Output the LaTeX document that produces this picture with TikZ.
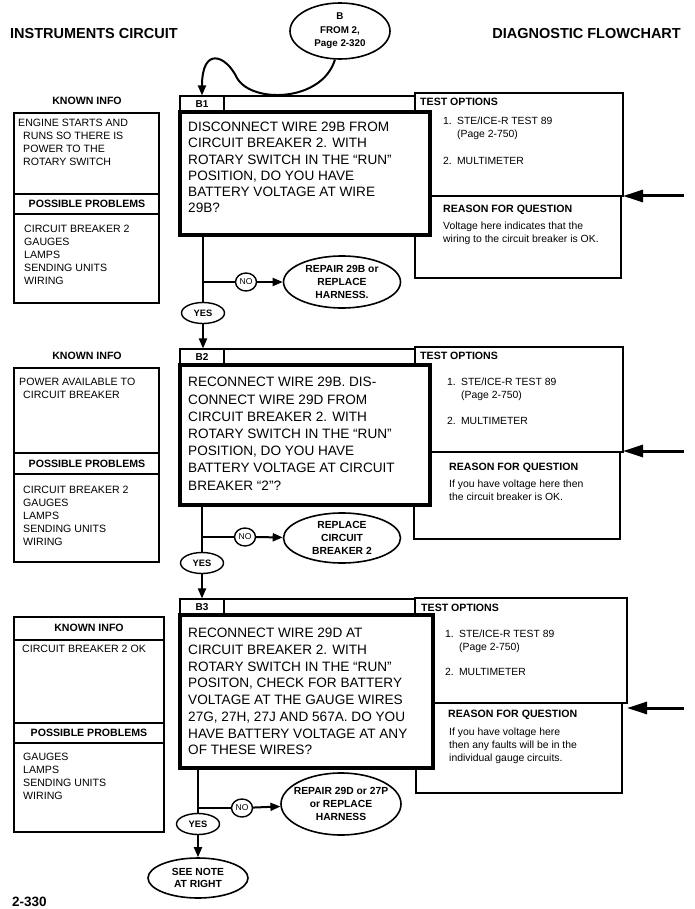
\documentclass[tikz,border=0pt]{standalone}
\usepackage{fontspec}
\setmainfont{Liberation Sans}
\usetikzlibrary{arrows.meta,shapes.geometric}
\tikzset{
  boxline/.style={line width=1.1pt},
  qline/.style={line width=4.5pt},
  conn/.style={line width=2pt},
  arr/.style={-{Triangle[length=10pt,width=8pt]}},
  bigarr/.style={line width=3pt,-{Triangle[length=20pt,width=12pt]}},
  hdr/.style={font=\bfseries\fontsize{10.6}{12}\selectfont,inner sep=0pt},
  ktext/.style={font=\fontsize{10.6}{12.8}\selectfont,align=left,anchor=north west,inner sep=0pt},
  ttext/.style={font=\fontsize{10.4}{13.5}\selectfont,anchor=base west,inner sep=0pt},
  rtext/.style={font=\fontsize{10.4}{13.7}\selectfont,align=left,anchor=north west,inner sep=0pt},
  qtext/.style={align=left,anchor=north west,inner sep=0pt},
  oval/.style={ellipse,draw,line width=1.6pt,inner sep=0pt,align=center,font=\bfseries\fontsize{10.3}{12.8}\selectfont},
  smalloval/.style={ellipse,draw,line width=1.4pt,inner sep=0pt,font=\fontsize{8.5}{10}\selectfont},
  yesoval/.style={ellipse,draw,line width=1.4pt,inner sep=0pt,font=\bfseries\fontsize{9.3}{10}\selectfont},
  tabcell/.style={draw,line width=1.1pt,minimum width=44pt,minimum height=16pt,inner sep=0pt,font=\bfseries\fontsize{10}{11}\selectfont},
}
\begin{document}
\begin{tikzpicture}[x=1pt,y=-1pt]
\useasboundingbox (0,0) rectangle (694,909);
\fill[white] (0,0) rectangle (694,909);

% header
\node[font=\bfseries\fontsize{14.5}{16}\selectfont,anchor=base west,inner sep=0pt] (title) at (10,38.2) {INSTRUMENTS CIRCUIT};
\node[font=\bfseries\fontsize{14.5}{16}\selectfont,anchor=base east,inner sep=0pt] (title2) at (681,38.2) {DIAGNOSTIC FLOWCHART};
\node[oval,minimum width=100,minimum height=56,font=\bfseries\fontsize{9.8}{13.5}\selectfont] (bn) at (340,31) {B\\FROM 2,\\Page 2-320};

% ================= ROW 1 =================
\draw[boxline] (14,113) rectangle (159,303);
\draw[boxline] (14,194) -- (159,194) (14,214) -- (159,214);
\node[hdr,anchor=base] (ki1) at (87,104.8) {KNOWN INFO};
\node[hdr,anchor=base] (pp1) at (87,207.8) {POSSIBLE PROBLEMS};
\node[ktext] (kt1) at (18,119.2) {ENGINE STARTS AND\\\hspace*{5pt}RUNS SO THERE IS\\\hspace*{5pt}POWER TO THE\\\hspace*{5pt}ROTARY SWITCH};
\node[ktext] (pl1) at (24,225.2) {CIRCUIT BREAKER 2\\GAUGES\\LAMPS\\SENDING UNITS\\WIRING};

\draw[boxline] (415,93) rectangle (623,196);
\draw[boxline] (415,196) rectangle (621,278);
\node[hdr,anchor=base west] (to1) at (420,105.8) {TEST OPTIONS};
\node[ttext] (o11) at (443,124.7) {1.\enspace STE/ICE-R TEST 89};
\node[ttext] (o12) at (457,137.7) {(Page 2-750)};
\node[ttext] (o13) at (443,164.7) {2.\enspace MULTIMETER};
\node[hdr,anchor=base west] (rq1) at (443,212.3) {REASON FOR QUESTION};
\node[rtext] (rt1) at (443,221.5) {Voltage here indicates that the\\wiring to the circuit breaker is OK.};
\coordinate (a1s) at (684,196);
\coordinate (a1e) at (623,196);
\draw[bigarr] (a1s) -- (a1e);

\draw[boxline] (180,96) rectangle (415,112);
\node[tabcell] (t1) at (202,104) {B1};
\draw[qline,fill=white] (180,112) rectangle (430,235);
\node[qtext,font=\fontsize{13.6}{16.2}\selectfont] (q1) at (188,122.1) {DISCONNECT WIRE 29B FROM\\CIRCUIT BREAKER 2. WITH\\ROTARY SWITCH IN THE “RUN”\\POSITION, DO YOU HAVE\\BATTERY VOLTAGE AT WIRE\\29B?};

\draw[conn,arr] (bn.-100) .. controls (322,102) and (252,104) .. (237,78) .. controls (226,55) and (202,46) .. (t1.north);

\coordinate (q1o) at (203,235);
\coordinate (j1) at (203,282);
\node[smalloval,minimum width=21,minimum height=18] (no1) at (246,282) {NO};
\node[oval,minimum width=117,minimum height=52] (r1) at (342,282) {REPAIR 29B or\\REPLACE\\HARNESS.};
\node[yesoval,minimum width=43,minimum height=21] (y1) at (203,313) {YES};
\draw[conn] (q1o) -- (y1);
\draw[conn] (j1) -- (no1);
\draw[conn,arr] (no1) -- (r1);

% ================= ROW 2 =================
\draw[boxline] (14,368) rectangle (159,562);
\draw[boxline] (14,453) -- (159,453) (14,474) -- (159,474);
\node[hdr,anchor=base] (ki2) at (87,359.8) {KNOWN INFO};
\node[hdr,anchor=base] (pp2) at (87,467.3) {POSSIBLE PROBLEMS};
\node[ktext] (kt2) at (19,378.2) {POWER AVAILABLE TO\\\hspace*{4pt}CIRCUIT BREAKER};
\node[ktext] (pl2) at (23,486.2) {CIRCUIT BREAKER 2\\GAUGES\\LAMPS\\SENDING UNITS\\WIRING};

\draw[boxline] (415,347) rectangle (623,452);
\draw[boxline] (414,452) rectangle (620,539);
\node[hdr,anchor=base west] (to2) at (420,359.8) {TEST OPTIONS};
\node[ttext] (o21) at (447,385.7) {1.\enspace STE/ICE-R TEST 89};
\node[ttext] (o22) at (461,398.7) {(Page 2-750)};
\node[ttext] (o23) at (447,424.7) {2.\enspace MULTIMETER};
\node[hdr,anchor=base west] (rq2) at (449,470.8) {REASON FOR QUESTION};
\node[rtext] (rt2) at (449,479.5) {If you have voltage here then\\the circuit breaker is OK.};
\coordinate (a2s) at (684,451);
\coordinate (a2e) at (623,451);
\draw[bigarr] (a2s) -- (a2e);

\draw[boxline] (180,349) rectangle (415,365);
\node[tabcell] (t2) at (202,357) {B2};
\draw[qline,fill=white] (180,365) rectangle (430,505);
\node[qtext,font=\fontsize{13.6}{17.2}\selectfont] (q2) at (188,377.1) {RECONNECT WIRE 29B. DIS-\\CONNECT WIRE 29D FROM\\CIRCUIT BREAKER 2. WITH\\ROTARY SWITCH IN THE “RUN”\\POSITION, DO YOU HAVE\\BATTERY VOLTAGE AT CIRCUIT\\BREAKER “2”?};
\draw[conn,arr] (y1) -- (y1 |- t2.north);

\coordinate (q2o) at (202,505);
\coordinate (j2) at (202,537);
\node[smalloval,minimum width=21,minimum height=18] (no2) at (245,537) {NO};
\node[oval,minimum width=117,minimum height=50] (r2) at (342,538) {REPLACE\\CIRCUIT\\BREAKER 2};
\node[yesoval,minimum width=43,minimum height=21] (y2) at (202,563) {YES};
\draw[conn] (q2o) -- (y2);
\draw[conn] (j2) -- (no2);
\draw[conn,arr] (no2) -- (r2);

% ================= ROW 3 =================
\draw[boxline] (14,617) rectangle (164,832);
\draw[boxline] (14,640) -- (164,640) (14,723) -- (164,723) (14,743) -- (164,743);
\node[hdr,anchor=base] (ki3) at (89,631.8) {KNOWN INFO};
\node[hdr,anchor=base] (pp3) at (89,736.8) {POSSIBLE PROBLEMS};
\node[ktext] (kt3) at (22,645.2) {CIRCUIT BREAKER 2 OK};
\node[ktext] (pl3) at (23,753.2) {GAUGES\\LAMPS\\SENDING UNITS\\WIRING};

\draw[boxline] (415,598) rectangle (627,703);
\draw[boxline] (416,703) rectangle (622,793);
\node[hdr,anchor=base west] (to3) at (421,611.8) {TEST OPTIONS};
\node[ttext] (o31) at (445,637.7) {1.\enspace STE/ICE-R TEST 89};
\node[ttext] (o32) at (459,650.7) {(Page 2-750)};
\node[ttext] (o33) at (445,675.7) {2.\enspace MULTIMETER};
\node[hdr,anchor=base west] (rq3) at (448,717.8) {REASON FOR QUESTION};
\node[rtext,font=\fontsize{10.4}{13}\selectfont] (rt3) at (449,727.5) {If you have voltage here\\then any faults will be in the\\individual gauge circuits.};
\coordinate (a3s) at (684,708);
\coordinate (a3e) at (627,708);
\draw[bigarr] (a3s) -- (a3e);

\draw[boxline] (180,599) rectangle (415,615);
\node[tabcell] (t3) at (202,607) {B3};
\draw[qline,fill=white] (180,615) rectangle (433,768);
\node[qtext,font=\fontsize{13.6}{16.7}\selectfont] (q3) at (188,628.1) {RECONNECT WIRE 29D AT\\CIRCUIT BREAKER 2. WITH\\ROTARY SWITCH IN THE “RUN”\\POSITON, CHECK FOR BATTERY\\VOLTAGE AT THE GAUGE WIRES\\27G, 27H, 27J AND 567A. DO YOU\\HAVE BATTERY VOLTAGE AT ANY\\OF THESE WIRES?};
\draw[conn,arr] (y2) -- (y2 |- t3.north);

\coordinate (q3o) at (198,768);
\coordinate (j3) at (198,808);
\node[smalloval,minimum width=21,minimum height=18] (no3) at (242,808) {NO};
\node[oval,minimum width=120,minimum height=62,inner xsep=-12pt,inner ysep=-4pt] (r3) at (341,804) {REPAIR 29D or 27P\\or REPLACE\\HARNESS};
\node[yesoval,minimum width=43,minimum height=21] (y3) at (198,824) {YES};
\draw[conn] (q3o) -- (y3);
\draw[conn] (j3) -- (no3);
\draw[conn,arr] (no3) -- (r3);
\node[oval,minimum width=100,minimum height=40,inner sep=-3pt] (sn) at (198,878) {SEE NOTE\\AT RIGHT};
\draw[conn,arr] (y3) -- (sn);

\node[font=\bfseries\fontsize{13.5}{15}\selectfont,anchor=base west,inner sep=0pt] (pg) at (12,906.8) {2-330};
\end{tikzpicture}
\end{document}
